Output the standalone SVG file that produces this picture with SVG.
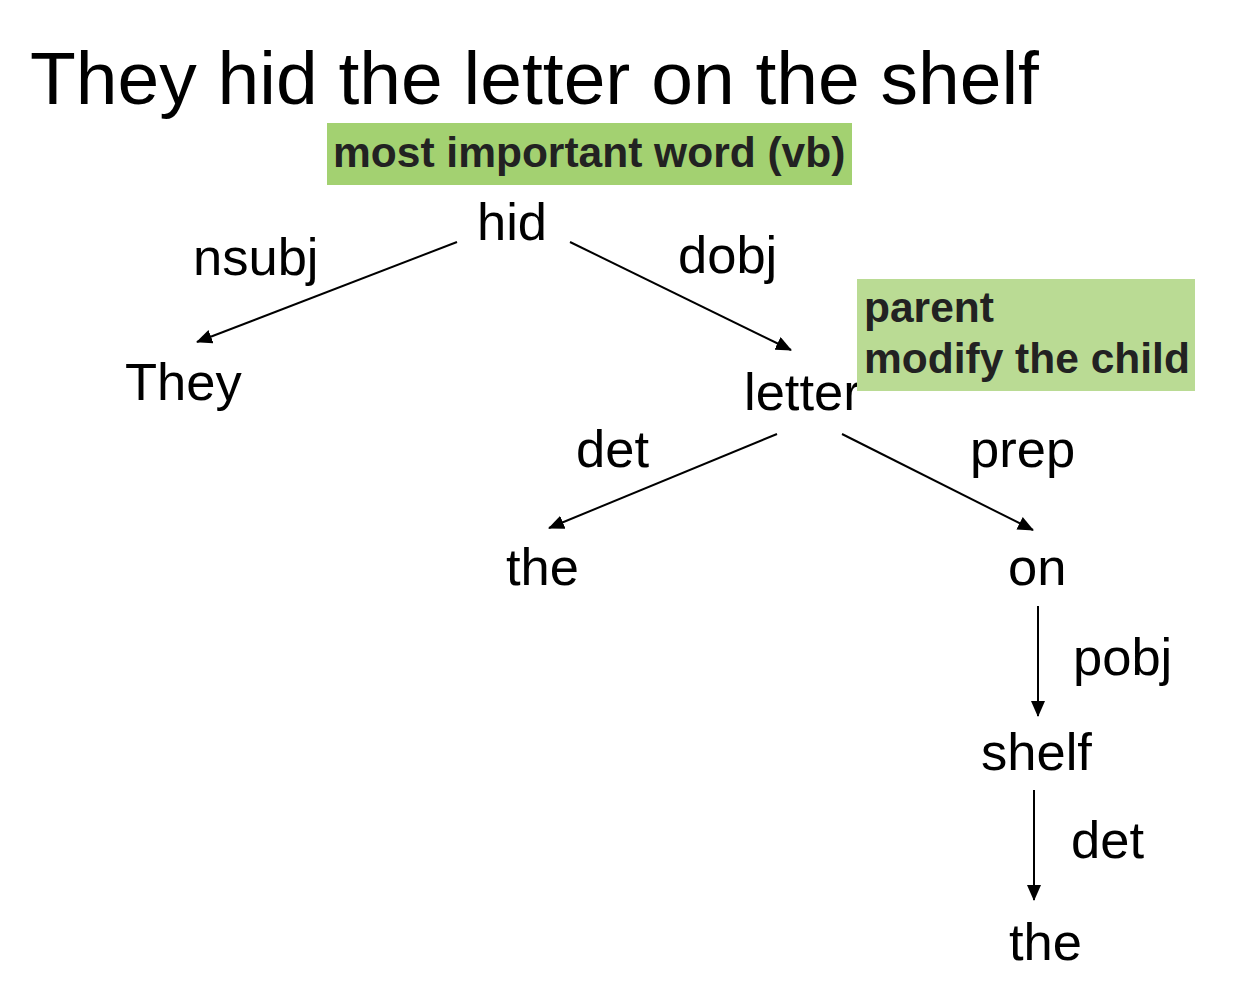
<svg xmlns="http://www.w3.org/2000/svg" width="1244" height="996" viewBox="0 0 1244 996">
<style>
.w{font-family:"Liberation Sans",Arial,sans-serif;font-size:52.5px;fill:#000}
.t{font-family:"Liberation Sans",Arial,sans-serif;font-size:75px;fill:#000}
.n{font-family:"Liberation Sans",Arial,sans-serif;font-size:42.5px;font-weight:bold;fill:#222}
.e{stroke:#000;stroke-width:2;fill:none;marker-end:url(#ah)}
</style>
<defs>
<marker id="ah" markerWidth="16" markerHeight="14" refX="15" refY="7" orient="auto" markerUnits="userSpaceOnUse" viewBox="0 0 16 14"><path d="M0,0 L16,7 L0,14 z" fill="#000"/></marker>
</defs>
<rect width="1244" height="996" fill="#fff"/>
<text class="t" x="30" y="104">They hid the letter on the shelf</text>
<g id="note1"><rect x="327" y="123" width="525" height="62" fill="#a3d171"/><text class="n" x="333" y="167">most important word (vb)</text></g>
<g id="connectors">
<line class="e" x1="457" y1="242" x2="197" y2="342"/>
<line class="e" x1="570" y1="242" x2="791" y2="350"/>
<line class="e" x1="777" y1="434" x2="549" y2="528"/>
<line class="e" x1="842" y1="434" x2="1033" y2="530"/>
<line class="e" x1="1038" y1="606" x2="1038" y2="716"/>
<line class="e" x1="1034" y1="790" x2="1034" y2="900"/>
<text class="w" x="193" y="275">nsubj</text>
<text class="w" x="678" y="273">dobj</text>
<text class="w" x="576" y="467">det</text>
<text class="w" x="970" y="467">prep</text>
<text class="w" x="1073" y="675">pobj</text>
<text class="w" x="1071" y="858">det</text>
</g>
<g id="hid"><text class="w" x="477" y="240">hid</text></g>
<g id="They"><text class="w" x="125" y="400">They</text></g>
<g id="letter"><text class="w" x="744" y="410">letter</text></g>
<g id="the1"><text class="w" x="506" y="585">the</text></g>
<g id="on"><text class="w" x="1008" y="585">on</text></g>
<g id="shelf"><text class="w" x="981" y="770">shelf</text></g>
<g id="the2"><text class="w" x="1009" y="960">the</text></g>
<g id="note2"><rect x="857" y="279" width="338" height="112" fill="#badb94"/><text class="n" x="864" y="322">parent</text><text class="n" x="864" y="373">modify the child</text></g>
</svg>
